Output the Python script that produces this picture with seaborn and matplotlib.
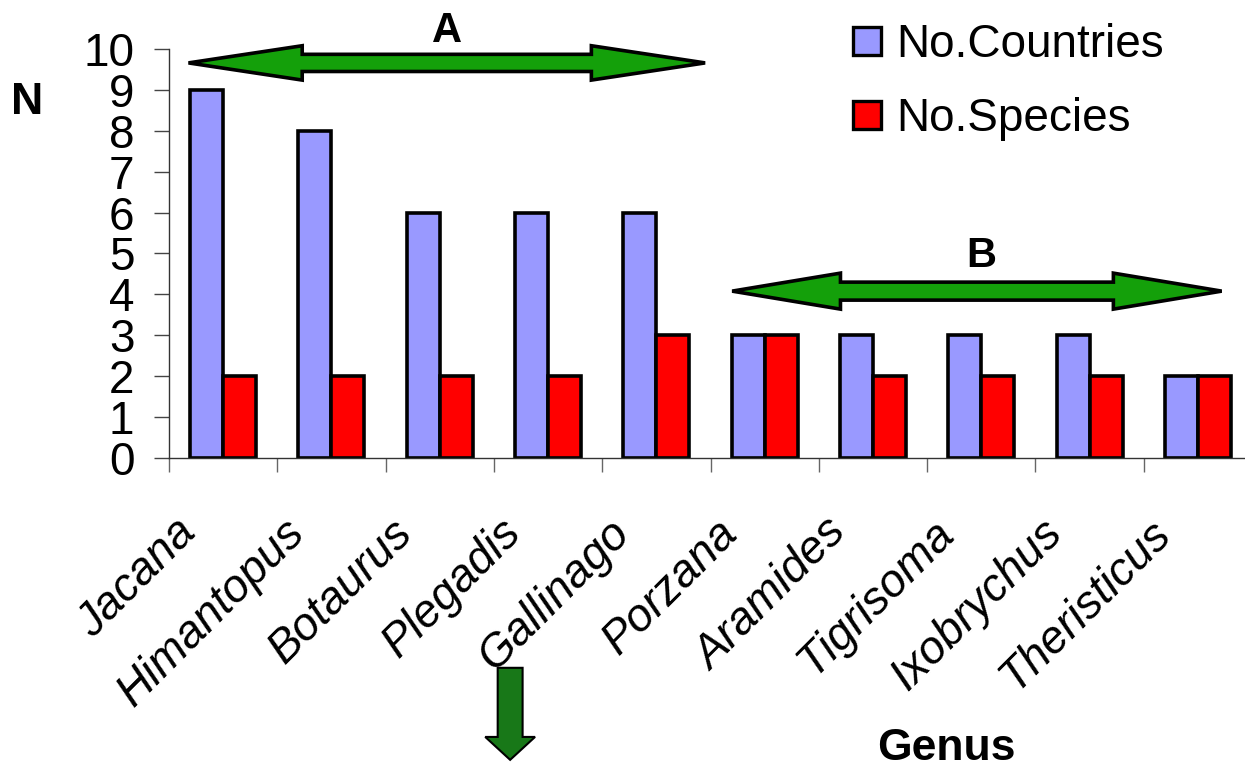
import numpy as np
import pandas as pd
import matplotlib
matplotlib.use("Agg")
import matplotlib.pyplot as plt
import matplotlib.transforms as mtransforms
from matplotlib.patches import Polygon, Patch
import seaborn as sns

# 데이터
genus = ["Jacana", "Himantopus", "Botaurus", "Plegadis", "Gallinago",
         "Porzana", "Aramides", "Tigrisoma", "Ixobrychus", "Theristicus"]
n_countries = [9, 8, 6, 6, 6, 3, 3, 3, 3, 2]
n_species = [2, 2, 2, 2, 3, 3, 2, 2, 2, 2]
series = ["No.Countries", "No.Species"]
colors = ["#9999FF", "#FF0000"]

df = pd.DataFrame({
    "Genus": genus * 2,
    "N": n_countries + n_species,
    "Series": [series[0]] * len(genus) + [series[1]] * len(genus),
})

sns.set_theme(style="white")
plt.rcParams["font.family"] = ["Liberation Sans", "DejaVu Sans"]
plt.rcParams["text.color"] = "black"
plt.rcParams["xtick.color"] = "black"
plt.rcParams["ytick.color"] = "black"

fig = plt.figure(figsize=(12.45, 7.69), dpi=100)
ax = fig.add_axes([169 / 1245, 1 - 458 / 769, 1083 / 1245, 409 / 769])

sns.barplot(data=df, x="Genus", y="N", hue="Series", order=genus,
            hue_order=series, palette=colors, width=0.61, gap=0,
            edgecolor="black", linewidth=2.6, saturation=1,
            errorbar=None, legend=False, ax=ax)

ax.set_xlim(-0.5, len(genus) - 0.5)
ax.set_ylim(0, 10)
ax.set_yticks(range(0, 11))
ax.tick_params(axis="y", labelsize=33, length=11, width=1, color="#444444",
               labelcolor="black", pad=14, left=True, direction="out")
ax.set_xticks(np.arange(len(genus) + 1) - 0.5, minor=True)
ax.tick_params(axis="x", which="minor", length=10, width=1, color="#666666",
               bottom=True, direction="out")
ax.set_xticks(range(len(genus)))
ax.set_xticklabels(genus, rotation=45, ha="right", va="top",
                   fontsize=33, style="italic", color="black")
ax.tick_params(axis="x", which="major", length=0, pad=38)
offset = mtransforms.ScaledTranslation(-18 / 100, 0, fig.dpi_scale_trans)
for lbl in ax.get_xticklabels():
    lbl.set_transform(lbl.get_transform() + offset)

ax.set_xlabel("")
ax.set_ylabel("")
for s in ["top", "right"]:
    ax.spines[s].set_visible(False)
for s in ["left", "bottom"]:
    ax.spines[s].set_color("#333333")
    ax.spines[s].set_linewidth(1)

fig.text(27 / 1245, 1 - 102 / 769, "N", fontsize=32, fontweight="bold",
         ha="center", va="center")
fig.text(946 / 1245, 1 - 748 / 769, "Genus", fontsize=32, fontweight="bold",
         ha="center", va="center")


def double_arrow(x0, x1, y, head_len, head_h, shaft_h):
    verts = [(x0, y), (x0 + head_len, y + head_h), (x0 + head_len, y + shaft_h),
             (x1 - head_len, y + shaft_h), (x1 - head_len, y + head_h), (x1, y),
             (x1 - head_len, y - head_h), (x1 - head_len, y - shaft_h),
             (x0 + head_len, y - shaft_h), (x0 + head_len, y - head_h)]
    ax.add_patch(Polygon(verts, closed=True, facecolor="#14A00A",
                         edgecolor="black", linewidth=2.6, clip_on=False,
                         zorder=5))


double_arrow(-0.32, 4.45, 9.66, 1.05, 0.42, 0.21)
double_arrow(4.70, 9.22, 4.08, 1.0, 0.44, 0.22)
ax.text(2.07, 10.45, "A", fontsize=30, fontweight="bold", ha="center",
        va="center")
ax.text(7.0, 4.95, "B", fontsize=30, fontweight="bold", ha="center",
        va="center")

# 아래쪽 화살표
cx = 2.65
down = [(cx - 0.115, -5.13), (cx + 0.115, -5.13), (cx + 0.115, -6.82),
        (cx + 0.23, -6.82), (cx, -7.38), (cx - 0.23, -6.82),
        (cx - 0.115, -6.82)]
ax.add_patch(Polygon(down, closed=True, facecolor="#187818",
                     edgecolor="black", linewidth=1.5, clip_on=False))

handles = [Patch(facecolor=c, edgecolor="black", linewidth=2.4) for c in colors]
fig.legend(handles, series, loc="upper left",
           bbox_to_anchor=(853 / 1245, 1 - 23 / 769), frameon=False,
           fontsize=33, handlelength=0.6, handleheight=0.55,
           handletextpad=0.35, labelspacing=0.66, borderpad=0,
           borderaxespad=0)

fig.savefig("out.png", dpi=100)
